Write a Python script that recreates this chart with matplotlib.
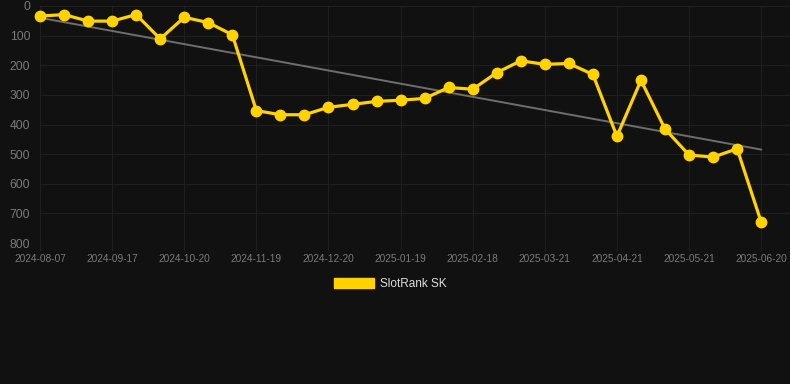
import numpy as np
import matplotlib
matplotlib.use("Agg")
import matplotlib.pyplot as plt
from matplotlib.patches import Patch

plt.rcParams['font.family'] = ['Liberation Sans', 'DejaVu Sans']

# rank values (lower = better), one point per snapshot
rank = [34, 29, 51, 51, 29, 111, 38, 56, 97,
        353, 367, 367, 342, 332, 322, 318, 312,
        275, 281, 225, 185, 197, 194, 231,
        440, 251, 415, 503, 510, 482, 729]

# labels shown on every third point
tick_labels = ['2024-08-07', '2024-09-17', '2024-10-20', '2024-11-19',
               '2024-12-20', '2025-01-19', '2025-02-18', '2025-03-21',
               '2025-04-21', '2025-05-21', '2025-06-20']

series_name = 'SlotRank SK'

bg = '#111111'
gold = '#FFD200'
grid_c = '#1f1f1f'
txt_c = '#7a7a7a'

x = np.arange(len(rank))
coef = np.polyfit(x, rank, 1)
trend = np.polyval(coef, x)

fig = plt.figure(figsize=(7.9, 3.84), dpi=100, facecolor=bg)
ax = fig.add_axes([40 / 790, 141 / 384, 750 / 790, 237 / 384], facecolor=bg)

ax.plot(x, trend, color='#6e6e6e', lw=1.4, zorder=2)
ax.plot(x, rank, color=gold, lw=2.3, marker='o', ms=7.5,
        markerfacecolor=gold, markeredgecolor=gold, zorder=3, clip_on=False)

ax.set_xlim(0, 31.2)
ax.set_ylim(800, 0)
ax.set_yticks(range(0, 801, 100))
ax.set_xticks(x[::3])
ax.set_xticklabels(tick_labels)

ax.grid(True, color=grid_c, lw=0.8)
ax.set_axisbelow(True)
for s in ax.spines.values():
    s.set_visible(False)

ax.tick_params(axis='y', length=0, pad=7, labelsize=8.7, labelcolor=txt_c)
ax.tick_params(axis='x', length=6, width=0.8, color=grid_c, pad=2,
               labelsize=7.3, labelcolor=txt_c)

leg = fig.legend(handles=[Patch(facecolor=gold, edgecolor=gold, label=series_name)],
                 loc='center', bbox_to_anchor=(390 / 790, 1 - 284 / 384),
                 frameon=False, fontsize=8.5, handlelength=3.4, handleheight=0.9,
                 handletextpad=0.5)
for t in leg.get_texts():
    t.set_color('#dddddd')

fig.savefig('out.png', dpi=100, facecolor=bg)
